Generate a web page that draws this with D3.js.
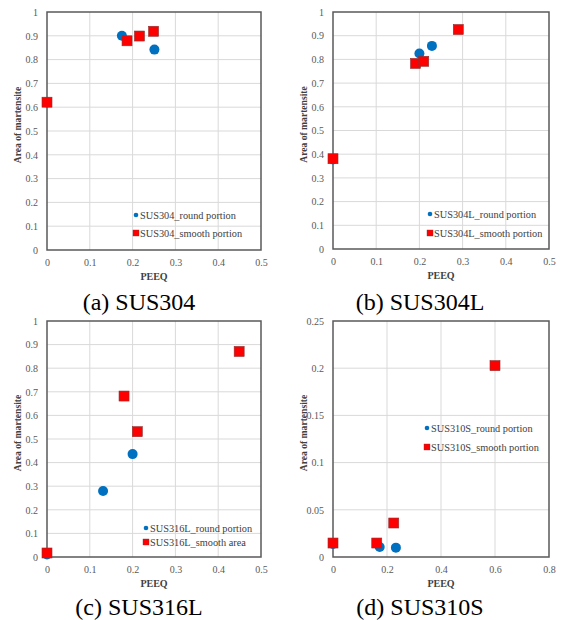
<!DOCTYPE html>
<html><head><meta charset="utf-8">
<script src="https://cdn.jsdelivr.net/npm/d3@7/dist/d3.min.js"></script>
<style>body{margin:0;background:#fff}svg{display:block}</style>
</head><body>
<script>
// ---- data ----
const panelTitles = ["(a) SUS304", "(b) SUS304L", "(c) SUS316L", "(d) SUS310S"];
const roundLabels = ["SUS304_round portion", "SUS304L_round portion", "SUS316L_round portion", "SUS310S_round portion"];
const smoothLabels = ["SUS304_smooth portion", "SUS304L_smooth portion", "SUS316L_smooth area", "SUS310S_smooth portion"];

const a_roundX = [0, 0.175, 0.251];
const a_roundY = [0.62, 0.900, 0.842];
const a_smoothX = [0, 0.187, 0.216, 0.249];
const a_smoothY = [0.621, 0.879, 0.899, 0.919];

const b_roundX = [0, 0.200, 0.229];
const b_roundY = [0.378, 0.825, 0.857];
const b_smoothX = [0, 0.191, 0.210, 0.290];
const b_smoothY = [0.381, 0.783, 0.792, 0.926];

const c_roundX = [0, 0.131, 0.200];
const c_roundY = [0.011, 0.280, 0.436];
const c_smoothX = [0, 0.180, 0.211, 0.449];
const c_smoothY = [0.017, 0.682, 0.531, 0.871];

const d_roundX = [0, 0.173, 0.233];
const d_roundY = [0.0138, 0.0106, 0.0099];
const d_smoothX = [0, 0.162, 0.225, 0.600];
const d_smoothY = [0.0148, 0.0148, 0.0360, 0.2027];

const xTicksA = [0, 0.1, 0.2, 0.3, 0.4, 0.5];
const xTicksD = [0, 0.2, 0.4, 0.6, 0.8];
const yTicksA = [0, 0.1, 0.2, 0.3, 0.4, 0.5, 0.6, 0.7, 0.8, 0.9, 1];
const yTicksD = [0, 0.05, 0.1, 0.15, 0.2, 0.25];

const xLabel = "PEEQ";
const yLabel = "Area of martensite";

// ---- layout ----
const W = 561, H = 620;
const svg = d3.select("body").append("svg").attr("width", W).attr("height", H);

const panels = [
  {left:47, right:261, top:12, bottom:250, rx:a_roundX, ry:a_roundY, sx:a_smoothX, sy:a_smoothY, xt:xTicksA, yt:yTicksA, xmax:0.5, ymax:1, ylx:21, leg:[136,215,233], cap:[139,310]},
  {left:333, right:549, top:12, bottom:249, rx:b_roundX, ry:b_roundY, sx:b_smoothX, sy:b_smoothY, xt:xTicksA, yt:yTicksA, xmax:0.5, ymax:1, ylx:306.5, leg:[430,214,233], cap:[420,310]},
  {left:47, right:261, top:321, bottom:557, rx:c_roundX, ry:c_roundY, sx:c_smoothX, sy:c_smoothY, xt:xTicksA, yt:yTicksA, xmax:0.5, ymax:1, ylx:21, leg:[146,528,542], cap:[139,615]},
  {left:333, right:549, top:321, bottom:557, rx:d_roundX, ry:d_roundY, sx:d_smoothX, sy:d_smoothY, xt:xTicksD, yt:yTicksD, xmax:0.8, ymax:0.25, ylx:306.5, leg:[427,428,447], cap:[420,615]}
];

const serif = '"Liberation Serif"';

panels.forEach((p, i) => {
  const g = svg.append("g");
  const x = d3.scaleLinear().domain([0, p.xmax]).range([p.left, p.right]);
  const y = d3.scaleLinear().domain([0, p.ymax]).range([p.bottom, p.top]);

  // gridlines
  g.append("g").selectAll("line").data(p.xt.slice(1, -1)).join("line")
    .attr("x1", d => x(d)).attr("x2", d => x(d)).attr("y1", p.top).attr("y2", p.bottom)
    .attr("stroke", "#d9d9d9").attr("stroke-width", 1);
  g.append("g").selectAll("line").data(p.yt.slice(1, -1)).join("line")
    .attr("y1", d => y(d)).attr("y2", d => y(d)).attr("x1", p.left).attr("x2", p.right)
    .attr("stroke", "#d9d9d9").attr("stroke-width", 1);

  // axes (tick labels only)
  const xa = g.append("g").attr("transform", `translate(0,${p.bottom})`)
    .call(d3.axisBottom(x).tickValues(p.xt).tickSize(0).tickPadding(9).tickFormat(d3.format("")));
  const ya = g.append("g").attr("transform", `translate(${p.left},0)`)
    .call(d3.axisLeft(y).tickValues(p.yt).tickSize(0).tickPadding(9).tickFormat(d3.format("")));
  [xa, ya].forEach(a => {
    a.attr("font-family", null).attr("font-size", null);
    a.select(".domain").remove();
    a.selectAll("text").style("font-family", serif).style("font-size", "10px").attr("fill", "#595959");
  });

  // plot border
  g.append("rect").attr("x", p.left).attr("y", p.top)
    .attr("width", p.right - p.left).attr("height", p.bottom - p.top)
    .attr("fill", "none").attr("stroke", "#595959").attr("stroke-width", 1.5);

  // round points
  g.append("g").selectAll("circle").data(p.rx.map((v, k) => [v, p.ry[k]])).join("circle")
    .attr("cx", d => x(d[0])).attr("cy", d => y(d[1])).attr("r", 5)
    .attr("fill", "#0070c0");
  // smooth points
  const s = 10;
  g.append("g").selectAll("rect").data(p.sx.map((v, k) => [v, p.sy[k]])).join("rect")
    .attr("x", d => x(d[0]) - s / 2).attr("y", d => y(d[1]) - s / 2)
    .attr("width", s).attr("height", s)
    .attr("fill", "#ff0000").attr("stroke", "#8c3030").attr("stroke-width", 0.6);

  // axis titles
  g.append("text").attr("x", (p.left + p.right) / 2).attr("y", p.bottom + 30)
    .attr("text-anchor", "middle").style("font-family", serif).style("font-weight", "bold")
    .style("font-size", "10px").attr("fill", "#404040").text(xLabel);
  g.append("text").attr("transform", `translate(${p.ylx},${(p.top + p.bottom) / 2 - 6}) rotate(-90)`)
    .attr("text-anchor", "middle").style("font-family", serif).style("font-weight", "bold")
    .style("font-size", "9.6px").attr("fill", "#404040").text(yLabel);

  // legend
  const [lx, ly1, ly2] = p.leg;
  g.append("circle").attr("cx", lx).attr("cy", ly1).attr("r", 2.3).attr("fill", "#0070c0");
  g.append("rect").attr("x", lx - 3).attr("y", ly2 - 3).attr("width", 6).attr("height", 6)
    .attr("fill", "#ff0000").attr("stroke", "#8c3030").attr("stroke-width", 0.4);
  g.append("text").attr("x", lx + 4).attr("y", ly1 + 3.5).style("font-family", serif)
    .style("font-size", "10.3px").attr("fill", "#404040").text(roundLabels[i]);
  g.append("text").attr("x", lx + 4).attr("y", ly2 + 3.5).style("font-family", serif)
    .style("font-size", "10.3px").attr("fill", "#404040").text(smoothLabels[i]);

  // caption
  g.append("text").attr("x", p.cap[0]).attr("y", p.cap[1]).attr("text-anchor", "middle")
    .style("font-family", serif).style("font-size", "24px").attr("fill", "#000").text(panelTitles[i]);
});
</script>
</body></html>
